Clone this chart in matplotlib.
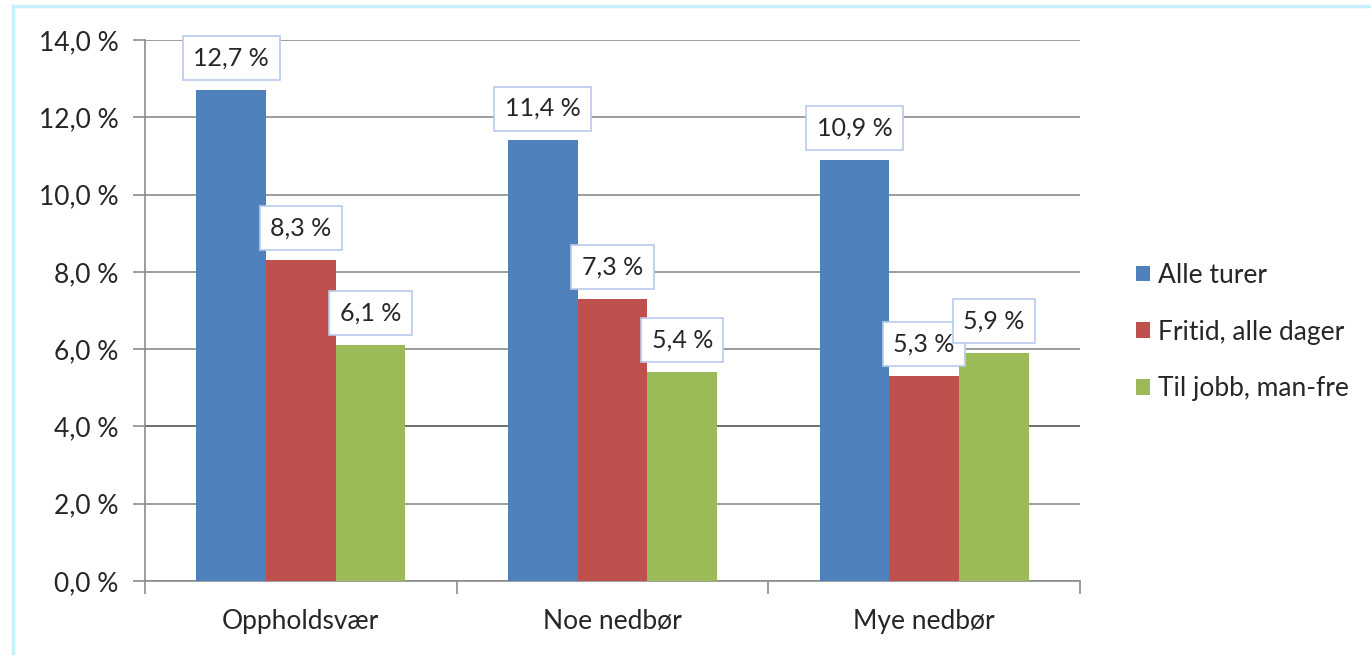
import matplotlib
matplotlib.use('Agg')
import matplotlib.pyplot as plt
from matplotlib.lines import Line2D
import numpy as np

categories = ['Oppholdsvær', 'Noe nedbør', 'Mye nedbør']
series_names = ['Alle turer', 'Fritid, alle dager', 'Til jobb, man-fre']
alle_turer = [12.7, 11.4, 10.9]
fritid = [8.3, 7.3, 5.3]
til_jobb = [6.1, 5.4, 5.9]
y_ticks = [0, 2, 4, 6, 8, 10, 12, 14]

colors = ['#4f81bd', '#c0504d', '#9bbb59']
FS = 19

plt.rcParams['font.family'] = ['Lato', 'DejaVu Sans']

fig = plt.figure(figsize=(13.71, 6.55), dpi=100)
ax = fig.add_axes([145 / 1371, 74 / 655, 935 / 1371, 541 / 655])

# light frame around the whole chart, like the Excel chart area
fig.add_artist(Line2D([13 / 1371, 13 / 1371], [0, 1 - 6 / 655], transform=fig.transFigure,
                      color='#c6f0fc', lw=2.5))
fig.add_artist(Line2D([13 / 1371, 1], [1 - 6 / 655, 1 - 6 / 655], transform=fig.transFigure,
                      color='#c6f0fc', lw=2.5))

x = np.arange(len(categories))
width = 0.2236
values = [alle_turer, fritid, til_jobb]
for i, (vals, name) in enumerate(zip(values, series_names)):
    pos = x + (i - 1) * width
    ax.bar(pos, vals, width, color=colors[i], label=name, zorder=3)
    for px, v in zip(pos, vals):
        ax.annotate(f'{v:.1f} %'.replace('.', ','), (px, v), xytext=(0, 23),
                    textcoords='offset points', ha='center', va='center',
                    fontsize=FS - 1, color='#262626', zorder=5,
                    bbox=dict(boxstyle='square,pad=0.42', fc='white',
                              ec='#b8cbec', lw=1.2))

ax.set_xlim(-0.5, 2.5)
ax.set_ylim(0, 14)
ax.set_yticks(y_ticks)
ax.set_yticklabels([f'{t:.1f} %'.replace('.', ',') for t in y_ticks], fontsize=FS, color='#262626')
ax.set_xticks(x)
ax.set_xticklabels(categories, fontsize=FS, color='#262626')
ax.tick_params(axis='x', length=0, pad=20)
ax.tick_params(axis='y', length=9, color='#8c8c8c', width=1.2, pad=10)
ax.set_xticks([-0.5, 0.5, 1.5, 2.5], minor=True)
ax.tick_params(axis='x', which='minor', length=9, color='#8c8c8c', width=1.2)

ax.yaxis.grid(True, color='#8c8c8c', lw=1.2, zorder=0)
ax.set_axisbelow(True)
ax.get_ygridlines()[2].set_color('#555555')
for side in ['top', 'right']:
    ax.spines[side].set_visible(False)
for side in ['left', 'bottom']:
    ax.spines[side].set_color('#8c8c8c')
    ax.spines[side].set_linewidth(1.2)

ax.legend(loc='center left', bbox_to_anchor=(1112 / 1371, 1 - 332 / 655),
          bbox_transform=fig.transFigure, frameon=False, fontsize=FS,
          handlelength=0.55, handleheight=0.55, handletextpad=0.3, labelspacing=1.2,
          labelcolor='#262626')

fig.savefig('out.png', dpi=100)
